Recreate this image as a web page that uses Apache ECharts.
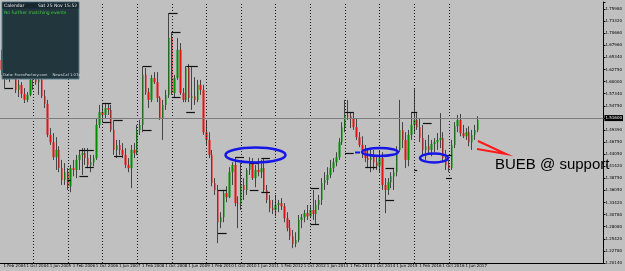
<!DOCTYPE html>
<html>
<head>
<meta charset="utf-8">
<style>
html,body{margin:0;padding:0;background:#c0c0c0}
#chart{width:625px;height:271px}
</style>
<script src="https://cdn.jsdelivr.net/npm/echarts@6/dist/echarts.min.js"></script>
</head>
<body>
<div id="chart"></div>
<script>
// monthly bars, Feb 2004 .. Nov 2017
const monthNames = ['Jan','Feb','Mar','Apr','May','Jun','Jul','Aug','Sep','Oct','Nov','Dec'];
const firstYear = 2004, firstMonth = 1;
const slotCount = 209; // empty space on the right like the terminal chart shift

const opens = [1.648,1.626,1.637,1.621,1.643,1.630,1.582,1.593,1.573,1.560,1.571,1.604,1.608,1.599,1.604,1.568,1.551,1.483,1.467,1.434,
1.450,1.410,1.384,1.401,1.370,1.410,1.406,1.428,1.439,1.443,1.432,1.417,1.423,1.432,1.505,1.533,1.527,1.542,1.538,1.494,
1.450,1.461,1.450,1.439,1.417,1.410,1.450,1.443,1.494,1.505,1.615,1.577,1.560,1.608,1.599,1.564,1.520,1.549,1.571,1.696,
1.575,1.608,1.670,1.575,1.560,1.630,1.564,1.568,1.560,1.593,1.582,1.489,1.472,1.439,1.377,1.362,1.291,1.302,1.355,1.346,
1.401,1.417,1.333,1.331,1.373,1.362,1.406,1.421,1.388,1.406,1.401,1.410,1.362,1.340,1.322,1.318,1.329,1.333,1.326,1.300,
1.278,1.260,1.243,1.252,1.296,1.302,1.311,1.304,1.318,1.309,1.329,1.340,1.377,1.384,1.395,1.410,1.423,1.434,1.467,1.500,
1.527,1.524,1.520,1.500,1.478,1.461,1.450,1.432,1.428,1.434,1.423,1.414,1.432,1.373,1.362,1.379,1.392,1.401,1.450,1.494,
1.472,1.428,1.483,1.505,1.516,1.500,1.476,1.450,1.458,1.450,1.463,1.467,1.472,1.476,1.432,1.417,1.410,1.461,1.502,1.516,
1.487,1.480,1.489,1.467,1.483,1.494];
const highs = [1.670,1.652,1.659,1.648,1.659,1.643,1.604,1.599,1.586,1.577,1.615,1.626,1.630,1.612,1.612,1.582,1.560,1.498,1.487,1.478,
1.458,1.428,1.421,1.410,1.417,1.428,1.439,1.450,1.454,1.454,1.454,1.439,1.439,1.520,1.549,1.551,1.553,1.551,1.549,1.516,
1.472,1.472,1.465,1.454,1.432,1.461,1.465,1.505,1.516,1.634,1.630,1.586,1.615,1.621,1.621,1.568,1.560,1.582,1.751,1.709,
1.615,1.696,1.685,1.586,1.634,1.639,1.632,1.610,1.604,1.604,1.593,1.516,1.489,1.450,1.388,1.373,1.313,1.362,1.370,1.412,
1.423,1.434,1.348,1.421,1.388,1.410,1.434,1.432,1.417,1.432,1.428,1.432,1.373,1.351,1.340,1.351,1.340,1.344,1.333,1.313,
1.296,1.274,1.269,1.307,1.309,1.318,1.329,1.329,1.362,1.340,1.351,1.388,1.401,1.412,1.428,1.432,1.445,1.476,1.511,1.560,
1.560,1.533,1.533,1.520,1.489,1.480,1.461,1.450,1.450,1.450,1.434,1.450,1.445,1.388,1.388,1.401,1.410,1.458,1.560,1.511,
1.489,1.494,1.533,1.586,1.533,1.520,1.505,1.472,1.483,1.472,1.476,1.487,1.531,1.489,1.450,1.428,1.472,1.511,1.527,1.529,
1.505,1.498,1.502,1.494,1.505,1.524];
const lows = [1.615,1.586,1.604,1.599,1.608,1.575,1.566,1.564,1.553,1.555,1.568,1.582,1.593,1.571,1.564,1.542,1.478,1.461,1.428,1.406,
1.401,1.373,1.373,1.362,1.357,1.392,1.388,1.406,1.395,1.417,1.410,1.401,1.414,1.428,1.498,1.511,1.520,1.527,1.489,1.439,
1.432,1.439,1.432,1.410,1.401,1.366,1.432,1.439,1.483,1.489,1.571,1.542,1.555,1.595,1.555,1.516,1.472,1.538,1.564,1.571,
1.564,1.604,1.571,1.555,1.555,1.555,1.538,1.549,1.555,1.571,1.483,1.461,1.432,1.370,1.351,1.245,1.278,1.291,1.335,1.344,
1.373,1.326,1.278,1.318,1.340,1.351,1.395,1.384,1.368,1.392,1.388,1.357,1.333,1.313,1.309,1.304,1.313,1.318,1.291,1.271,
1.252,1.234,1.236,1.247,1.278,1.291,1.296,1.300,1.296,1.287,1.318,1.329,1.362,1.373,1.388,1.401,1.414,1.428,1.461,1.489,
1.516,1.498,1.494,1.472,1.456,1.432,1.423,1.410,1.401,1.406,1.406,1.401,1.362,1.311,1.351,1.366,1.362,1.392,1.445,1.454,
1.410,1.414,1.472,1.487,1.494,1.467,1.439,1.428,1.439,1.436,1.445,1.450,1.454,1.423,1.406,1.401,1.406,1.454,1.489,1.480,
1.476,1.472,1.458,1.450,1.472,1.489];
const closes = [1.626,1.637,1.621,1.643,1.630,1.582,1.593,1.573,1.560,1.571,1.604,1.608,1.599,1.604,1.568,1.551,1.483,1.467,1.434,1.450,
1.410,1.384,1.401,1.370,1.410,1.406,1.428,1.439,1.443,1.432,1.417,1.423,1.432,1.505,1.533,1.527,1.542,1.538,1.494,1.450,
1.461,1.450,1.439,1.417,1.410,1.450,1.443,1.494,1.505,1.615,1.577,1.560,1.608,1.599,1.564,1.520,1.549,1.571,1.696,1.575,
1.608,1.670,1.575,1.560,1.630,1.564,1.568,1.560,1.593,1.582,1.489,1.472,1.439,1.377,1.362,1.291,1.302,1.355,1.346,1.401,
1.417,1.333,1.331,1.373,1.362,1.406,1.421,1.388,1.406,1.401,1.410,1.362,1.340,1.322,1.318,1.329,1.333,1.326,1.300,1.278,
1.260,1.243,1.252,1.296,1.302,1.311,1.304,1.318,1.309,1.329,1.340,1.377,1.384,1.395,1.410,1.423,1.434,1.467,1.500,1.527,
1.524,1.520,1.500,1.478,1.461,1.450,1.432,1.428,1.434,1.423,1.414,1.432,1.373,1.362,1.379,1.392,1.401,1.450,1.494,1.472,
1.428,1.483,1.505,1.516,1.500,1.476,1.450,1.458,1.450,1.463,1.467,1.472,1.476,1.432,1.417,1.410,1.461,1.502,1.516,1.487,
1.480,1.489,1.467,1.483,1.494,1.516];

// price scale tick labels as printed on the right axis
const yLabels = ['1.20140','1.22780','1.25420','1.28080','1.30780','1.33420','1.36050','1.38750','1.41420','1.44050','1.46750',
'1.49390','1.52050','1.54750','1.57340','1.60000','1.62750','1.65340','1.67960','1.70660','1.73320','1.75980'];
const yMin = 1.2014, yStep = 0.02659, yMax = 1.77518;

// black high/low range segments: [fromBar, toBar, price]
const rangeLines = [
  [1,4,1.586],[23,24,1.384],[27,32,1.450],[29,32,1.412],[27,30,1.392],[35,38,1.553],[35,38,1.511],
  [39,42,1.516],[39,42,1.436],[49,52,1.634],[49,52,1.494],[58,61,1.751],[59,62,1.709],[59,62,1.566],
  [64,68,1.634],[64,67,1.533],[75,78,1.362],[75,78,1.267],[81,84,1.434],[86,89,1.421],[86,89,1.362],
  [90,93,1.432],[90,93,1.357],[107,110,1.366],[107,110,1.287],[119,122,1.443],[119,122,1.533],
  [126,130,1.412],[133,136,1.410],[133,136,1.340],[142,144,1.533],[143,144,1.406],[146,149,1.509],
  [154,156,1.439],[154,156,1.388]
];

const barCount = closes.length;
const months = [];
for (let i = 0; i < barCount; i++) {
  const m = (firstMonth + i) % 12;
  const y = firstYear + Math.floor((firstMonth + i) / 12);
  months.push('1 ' + monthNames[m] + ' ' + y);
}
const axisData = months.concat(new Array(slotCount - barCount).fill(''));
const isLabelBar = (i) => i % 8 === 0 && i < barCount;

const wickData = opens.map((o, i) => [o, closes[i], lows[i], highs[i]]);
const bodyData = opens.map((o, i) => [o, closes[i], Math.min(o, closes[i]), Math.max(o, closes[i])]);

const lastClose = closes[barCount - 1];
const separators = [];
for (let i = 0; i < barCount; i++) {
  if ((firstMonth + i) % 12 === 0) {
    separators.push({ xAxis: i, lineStyle: { color: '#1a1a1a', type: [1, 2], width: 1 }, label: { show: false } });
  }
}
separators.push({
  yAxis: lastClose,
  lineStyle: { color: '#7c7c7c', type: 'solid', width: 1 },
  label: {
    show: true, position: 'end', distance: 1, formatter: lastClose.toFixed(5),
    backgroundColor: '#000', color: '#fff', fontSize: 4, padding: [1, 1], fontFamily: 'DejaVu Sans'
  }
});

const rangeData = rangeLines.map(r => [{ coord: [r[0], r[2]] }, { coord: [r[1], r[2]] }]);

const chart = echarts.init(document.getElementById('chart'));
chart.setOption({
  animation: false,
  backgroundColor: '#c0c0c0',
  grid: { left: 0, right: 16, top: 2, bottom: 8 },
  xAxis: {
    type: 'category',
    data: axisData,
    boundaryGap: true,
    axisLine: { lineStyle: { color: '#000', width: 1 } },
    axisTick: { alignWithLabel: true, interval: isLabelBar, length: 2, lineStyle: { color: '#000' } },
    axisLabel: {
      interval: isLabelBar, align: 'left', margin: 1, padding: [0, 0, 0, 2],
      fontSize: 4, color: '#000', fontFamily: 'DejaVu Sans'
    },
    splitLine: { show: false }
  },
  yAxis: {
    type: 'value',
    position: 'right',
    min: yMin, max: yMax, interval: yStep,
    axisLine: { show: true, lineStyle: { color: '#000', width: 1 } },
    axisTick: { show: true, length: 2, lineStyle: { color: '#000' } },
    axisLabel: {
      margin: 2, fontSize: 4, color: '#000', fontFamily: 'DejaVu Sans',
      formatter: (v) => {
        const k = Math.round((v - yMin) / yStep);
        if (k === 12) return '';
        return yLabels[k] || '';
      }
    },
    splitLine: { show: false }
  },
  series: [
    {
      type: 'candlestick',
      data: wickData,
      barWidth: 1,
      itemStyle: { color: '#444444', color0: '#444444', borderColor: '#444444', borderColor0: '#444444', borderWidth: 1 },
      markLine: { silent: true, symbol: ['none', 'none'], data: separators }
    },
    {
      type: 'candlestick',
      data: bodyData,
      barWidth: 2,
      itemStyle: { color: '#008f00', color0: '#e81010', borderColor: '#008f00', borderColor0: '#e81010', borderWidth: 0 },
      markLine: {
        silent: true, symbol: ['none', 'none'],
        lineStyle: { color: '#111', type: 'solid', width: 1.2 },
        label: { show: false },
        data: rangeData
      }
    }
  ],
  graphic: [
    // calendar panel
    { type: 'rect', z: 100, shape: { x: 2, y: 2, width: 77, height: 77 }, style: { fill: '#22363e', stroke: '#5b7f8c', lineWidth: 1 } },
    { type: 'rect', z: 101, shape: { x: 2.5, y: 2.5, width: 76, height: 6 }, style: { fill: '#172830' } },
    { type: 'text', z: 102, x: 4, y: 3, style: { text: 'Calendar', fill: '#e8e8e8', fontSize: 4.5, fontFamily: 'DejaVu Sans' } },
    { type: 'text', z: 102, x: 38, y: 3, style: { text: 'Sat 25 Nov 15:52', fill: '#e8e8e8', fontSize: 4.5, fontFamily: 'DejaVu Sans' } },
    { type: 'text', z: 102, x: 4, y: 10, style: { text: 'No further matching events', fill: '#3cd23c', fontSize: 4.5, fontFamily: 'DejaVu Sans' } },
    { type: 'text', z: 102, x: 3, y: 73.5, style: { text: 'Data: ForexFactory.com    NewsCal 1.07a', fill: '#cfd8dc', fontSize: 3.8, fontFamily: 'DejaVu Sans' } },
    // hand drawn marks
    { type: 'ellipse', z: 110, shape: { cx: 255.5, cy: 155, rx: 30, ry: 7.5 }, style: { fill: 'none', stroke: '#1616e8', lineWidth: 2.5 } },
    { type: 'ellipse', z: 110, shape: { cx: 380, cy: 152, rx: 18, ry: 4 }, style: { fill: 'none', stroke: '#1616e8', lineWidth: 2.5 } },
    { type: 'line', z: 110, shape: { x1: 355, y1: 152.5, x2: 360, y2: 152.5 }, style: { stroke: '#1616e8', lineWidth: 2 } },
    { type: 'ellipse', z: 110, shape: { cx: 434, cy: 158, rx: 14, ry: 4.5 }, style: { fill: 'none', stroke: '#1616e8', lineWidth: 2.5 } },
    { type: 'polyline', z: 110, shape: { points: [[478, 141], [506, 154], [477, 149]] }, style: { fill: 'none', stroke: '#ff1a1a', lineWidth: 2 } },
    { type: 'text', z: 110, x: 495, y: 157, style: { text: 'BUEB @ support', fill: '#000', fontSize: 15, fontFamily: 'Liberation Sans' } }
  ]
});
</script>
</body>
</html>
